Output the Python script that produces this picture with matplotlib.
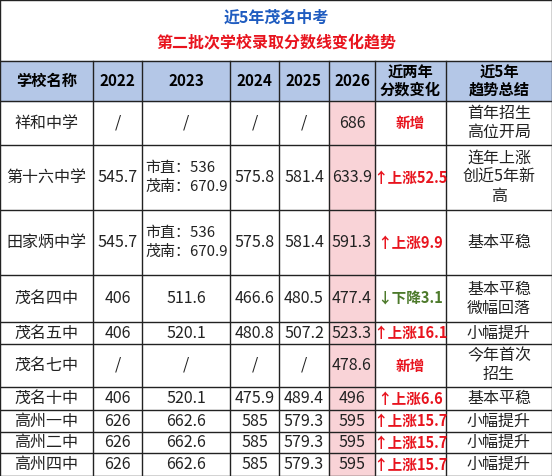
import matplotlib
matplotlib.use("Agg")
import matplotlib.pyplot as plt
from matplotlib.patches import Rectangle

plt.rcParams['font.family'] = ['Noto Sans CJK SC', 'DejaVu Sans']

title1 = "近5年茂名中考"
title2 = "第二批次学校录取分数线变化趋势"
headers = ["学校名称", "2022", "2023", "2024", "2025", "2026", "近两年\n分数变化", "近5年\n趋势总结"]
schools = ["祥和中学", "第十六中学", "田家炳中学", "茂名四中", "茂名五中", "茂名七中", "茂名十中", "高州一中", "高州二中", "高州四中"]
s2022 = ["/", "545.7", "545.7", "406", "406", "/", "406", "626", "626", "626"]
s2023 = ["/", "市直：536\n茂南：670.9", "市直：536\n茂南：670.9", "511.6", "520.1", "/", "520.1", "662.6", "662.6", "662.6"]
s2024 = ["/", "575.8", "575.8", "466.6", "480.8", "/", "475.9", "585", "585", "585"]
s2025 = ["/", "581.4", "581.4", "480.5", "507.2", "/", "489.4", "579.3", "579.3", "579.3"]
s2026 = ["686", "633.9", "591.3", "477.4", "523.3", "478.6", "496", "595", "595", "595"]
change = ["新增", "↑上涨52.5", "↑上涨9.9", "↓下降3.1", "↑上涨16.1", "新增", "↑上涨6.6", "↑上涨15.7", "↑上涨15.7", "↑上涨15.7"]
trend = ["首年招生\n高位开局", "连年上涨\n创近5年新\n高", "基本平稳", "基本平稳\n微幅回落", "小幅提升", "今年首次\n招生", "基本平稳", "小幅提升", "小幅提升", "小幅提升"]

W, H = 552, 476
xs = [0, 93, 142, 230, 279, 329, 375, 446, 552]
ys = [61, 101, 145, 210, 275, 322, 344, 387, 410, 432, 453, 476]

fig = plt.figure(figsize=(W/100, H/100), dpi=100)
ax = fig.add_axes([0, 0, 1, 1])
ax.set_xlim(0, W); ax.set_ylim(H, 0); ax.axis('off')

ax.add_patch(Rectangle((0, ys[0]), W, ys[1]-ys[0], color='#b4c7e7', zorder=0))
ax.add_patch(Rectangle((xs[5], ys[1]), xs[6]-xs[5], H-ys[1], color='#f9d3d7', zorder=0))

ax.text(W/2, 18, title1, ha='center', va='center', color='#1f5cc0', fontsize=11.5, fontweight='bold')
ax.text(W/2, 42, title2, ha='center', va='center', color='#e8141e', fontsize=11.5, fontweight='bold')

for i, h in enumerate(headers):
    ax.text((xs[i]+xs[i+1])/2, (ys[0]+ys[1])/2, h, ha='center', va='center', fontsize=11,
            fontweight='bold', linespacing=1.1)

cols = [schools, s2022, s2023, s2024, s2025, s2026, change, trend]
for r in range(len(schools)):
    yc = (ys[r+1]+ys[r+2])/2
    for c, col in enumerate(cols):
        t = col[r]
        xc = (xs[c]+xs[c+1])/2
        kw = dict(fontsize=11.5, color='#222222')
        if c == 6:
            kw['fontweight'] = 'bold'
            kw['fontsize'] = 10.5
            kw['color'] = '#4d7a2b' if '下降' in t else '#e8141e'
        if c == 2 and '\n' in t:
            kw['fontsize'] = 10.8
            ax.text(xs[c]+3, yc, t, ha='left', va='center', linespacing=1.45, **kw)
        else:
            ax.text(xc, yc, t, ha='center', va='center', linespacing=1.15, **kw)

lw = 1.0
for y in [0] + ys:
    ax.plot([0, W], [y, y], color='#222222', lw=lw)
for x in xs:
    y0 = 0 if x in (0, W) else ys[0]
    ax.plot([x, x], [y0, H], color='#222222', lw=lw)

fig.savefig("out.png", dpi=100)
